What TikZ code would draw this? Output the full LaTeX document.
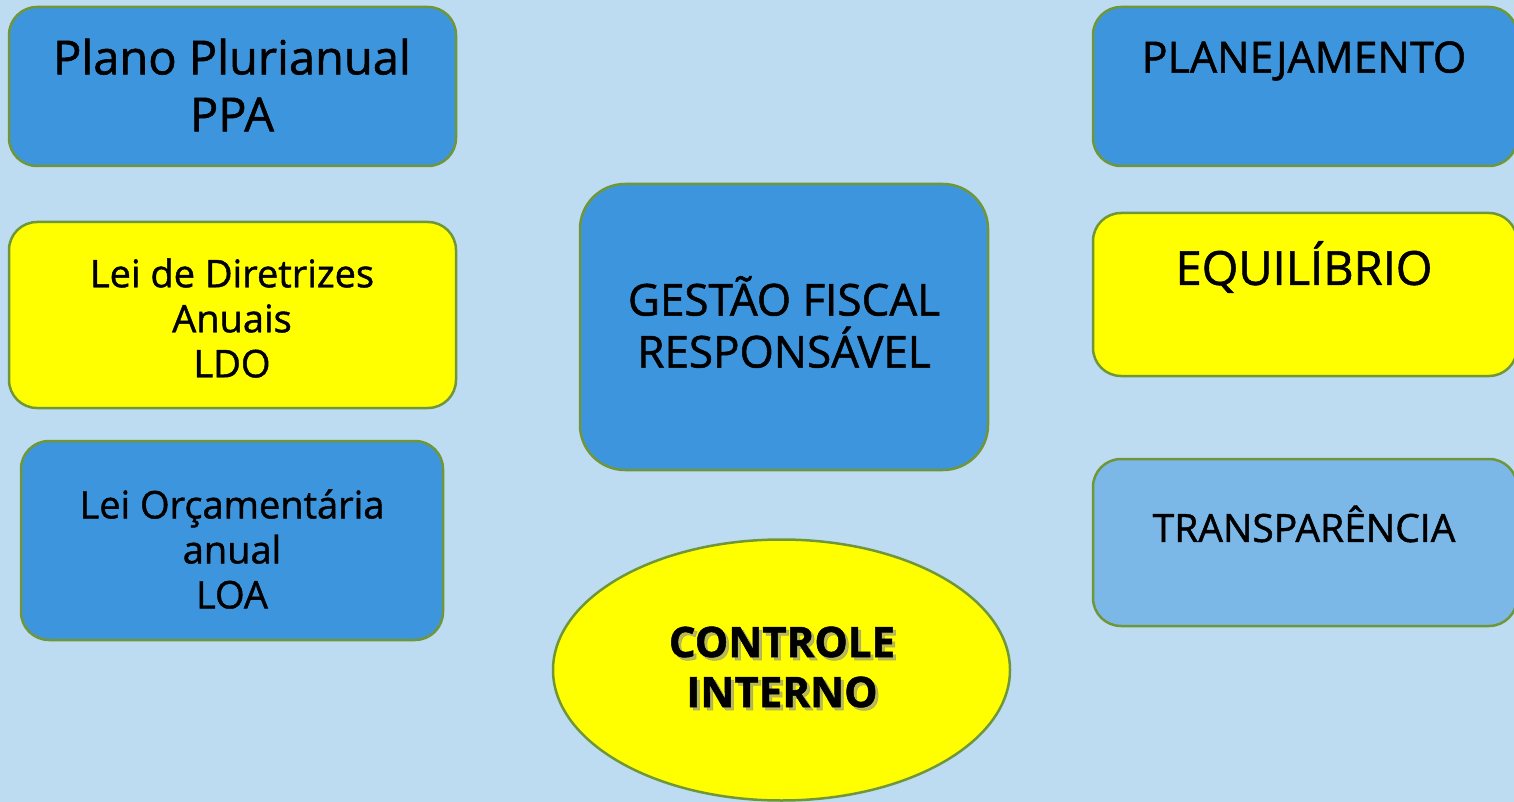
\documentclass[tikz,border=0pt]{standalone}
\usepackage{fontspec}
\setmainfont{Open Sans}[FakeBold=1.2]
\usetikzlibrary{shapes.geometric}
\definecolor{bg}{RGB}{189,220,242}
\definecolor{bluefill}{RGB}{61,150,221}
\definecolor{lightfill}{RGB}{123,184,232}
\definecolor{yel}{RGB}{255,255,0}
\definecolor{edge}{RGB}{112,150,58}
\tikzset{
  box/.style={draw=edge, line width=2.5pt, rounded corners=28pt, inner sep=0pt},
  bluebox/.style={box, fill=bluefill},
  lightbox/.style={box, fill=lightfill},
  yelbox/.style={box, fill=yel},
  txt/.style={align=center, text=black, inner sep=0pt},
}
\begin{document}
\begin{tikzpicture}[x=1pt,y=-1pt]
\fill[bg] (0,0) rectangle (1514,802);
\useasboundingbox (0,0) rectangle (1514,802);
% left column
\node[bluebox, minimum width=447pt, minimum height=159pt] (ppa) at (232.5,86.5) {};
\node[txt, font=\fontsize{47}{57}\selectfont] (ppat) at (232,85) {Plano Plurianual\\PPA};
\node[yelbox, minimum width=447pt, minimum height=186pt] (ldo) at (232.5,315) {};
\node[txt, font=\fontsize{38}{45}\selectfont] (ldot) at (232,318) {Lei de Diretrizes\\Anuais\\LDO};
\node[bluebox, minimum width=422pt, minimum height=199pt] (loa) at (232,540.5) {};
\node[txt, font=\fontsize{38}{45}\selectfont] (loat) at (232,549) {Lei Orçamentária\\anual\\LOA};
% center
\node[bluebox, minimum width=408pt, minimum height=286pt, rounded corners=45pt] (gfr) at (784,327) {};
\node[txt, font=\fontsize{44}{52}\selectfont] (gfrt) at (784,322) {GESTÃO FISCAL\\RESPONSÁVEL};
\node[ellipse, draw=edge, line width=2.5pt, fill=yel, minimum width=457pt, minimum height=261pt, inner sep=0pt] (ci) at (781.5,670) {};
\node[txt, font=\bfseries\fontsize{42}{50}\selectfont, text=black!45, opacity=0.6] (cis) at (785,670) {CONTROLE\\INTERNO};
\node[txt, font=\bfseries\fontsize{42}{50}\selectfont] (cit) at (782,667) {CONTROLE\\INTERNO};
% right column
\node[bluebox, minimum width=424pt, minimum height=159pt] (plan) at (1305,86.5) {};
\node[txt, font=\fontsize{43}{52}\selectfont] (plant) at (1304,61) {PLANEJAMENTO};
\node[yelbox, minimum width=424pt, minimum height=163pt] (equi) at (1305,294.5) {};
\node[txt, font=\fontsize{47}{52}\selectfont] (equit) at (1304,267) {EQUILÍBRIO};
\node[lightbox, minimum width=424pt, minimum height=167pt] (tran) at (1305,542.5) {};
\node[txt, font=\fontsize{39}{48}\selectfont] (trant) at (1304,524) {TRANSPARÊNCIA};
\end{tikzpicture}
\end{document}
